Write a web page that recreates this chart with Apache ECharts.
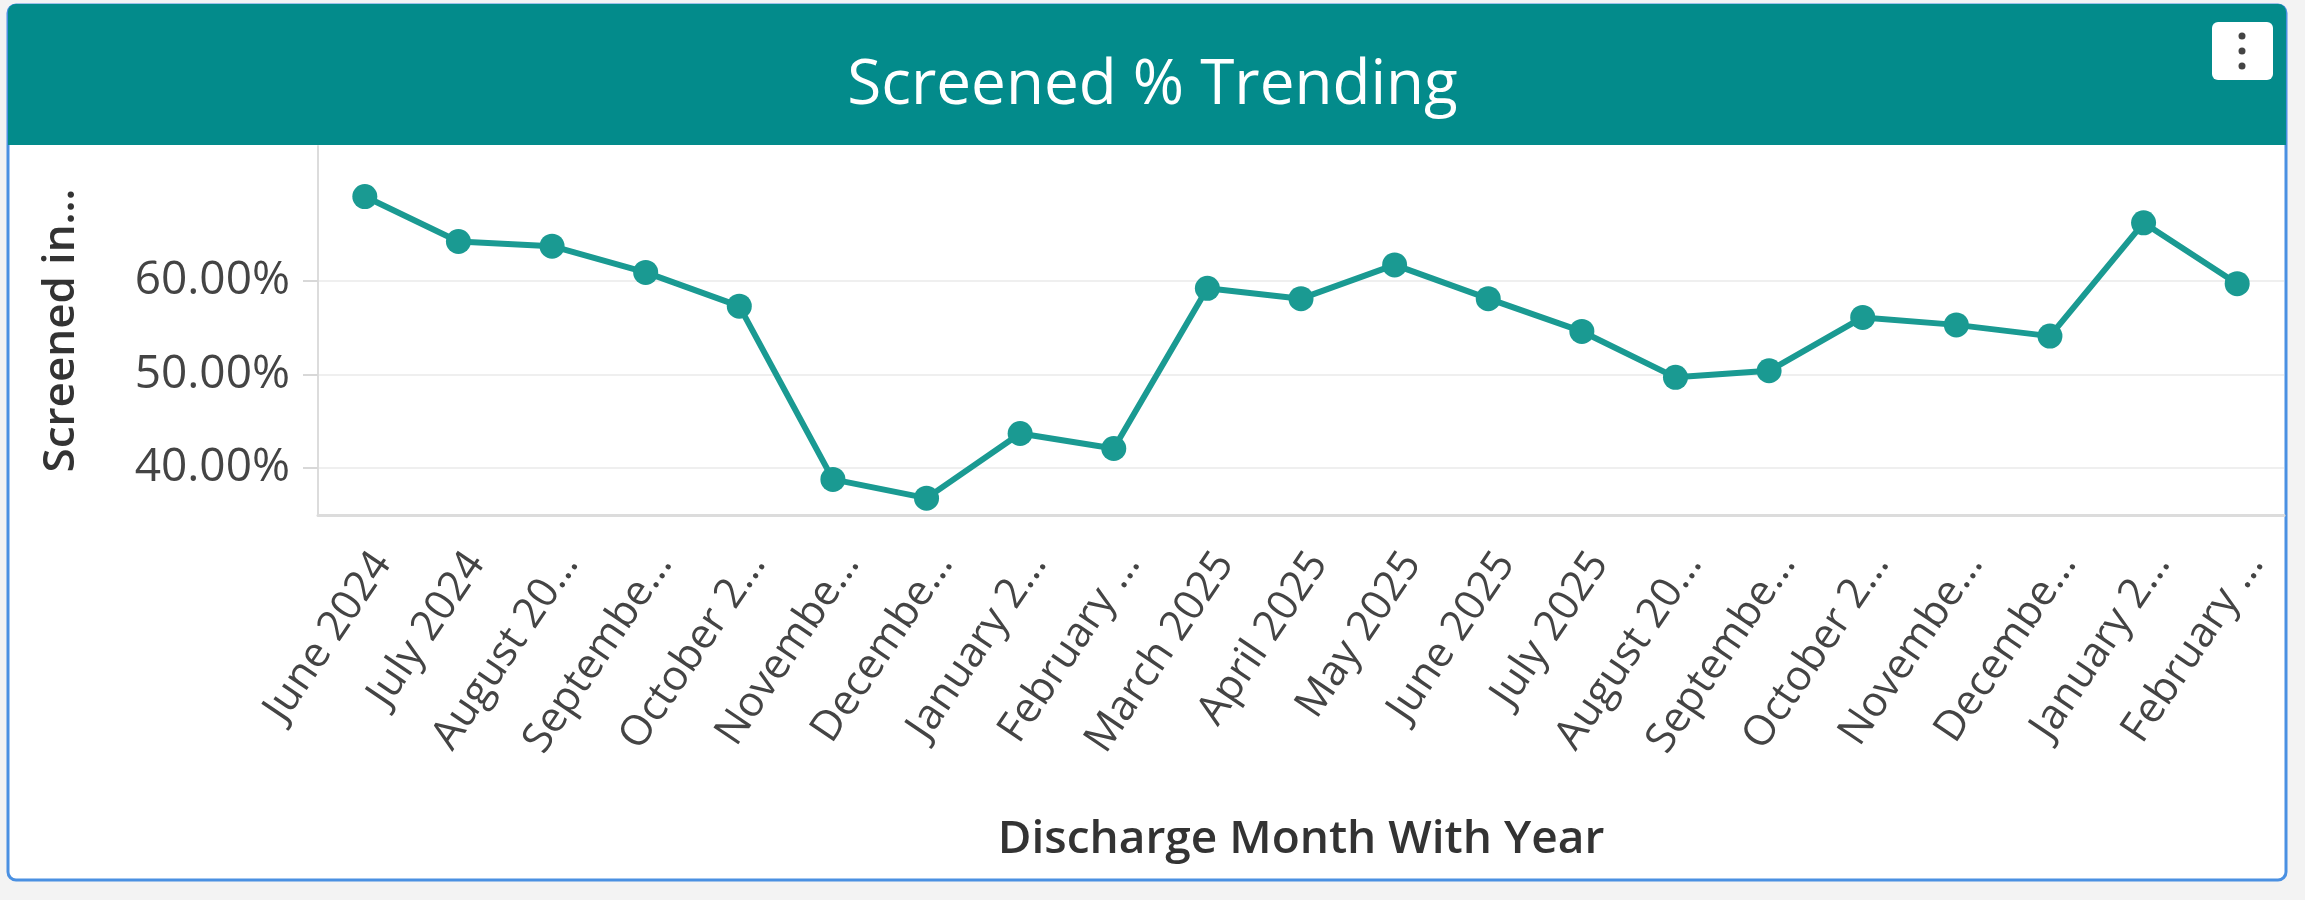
<!DOCTYPE html>
<html><head><meta charset="utf-8">
<script src="https://cdn.jsdelivr.net/npm/echarts@6/dist/echarts.min.js"></script>
<style>html,body{margin:0;padding:0;background:#f3f3f3;overflow:hidden}#chart{width:2305px;height:900px;}</style>
</head><body><div id="chart"></div>
<script>
const categories = ['June 2024','July 2024','August 2024','September 2024','October 2024','November 2024','December 2024','January 2025','February 2025','March 2025','April 2025','May 2025','June 2025','July 2025','August 2025','September 2025','October 2025','November 2025','December 2025','January 2026','February 2026'];
const tickLabels = ['June 2024','July 2024','August 20…','Septembe…','October 2…','Novembe…','Decembe…','January 2…','February …','March 2025','April 2025','May 2025','June 2025','July 2025','August 20…','Septembe…','October 2…','Novembe…','Decembe…','January 2…','February …'];
const screenedPct = [69.0,64.2,63.7,60.9,57.3,38.8,36.8,43.7,42.1,59.2,58.1,61.7,58.1,54.6,49.7,50.4,56.1,55.3,54.1,66.2,59.7];
const yTickValues = [40,50,60];

const chart = echarts.init(document.getElementById('chart'), null, {renderer:'canvas'});
const FONT = '"Open Sans", "Noto Sans", sans-serif';
const TEAL = '#038b8b';
const LINE = '#1a9a92';

chart.setOption({
  backgroundColor: '#f3f3f3',
  textStyle: {fontFamily: FONT},
  graphic: [
    {type:'rect', z:-10, shape:{x:8, y:5, width:2278, height:875, r:8}, style:{fill:'#ffffff', stroke:'#4a90e2', lineWidth:3}},
    {type:'rect', z:-9, shape:{x:8, y:4, width:2278, height:141, r:[8,8,0,0]}, style:{fill:TEAL}},
    {type:'rect', z:-8, shape:{x:2212, y:22, width:61, height:58, r:6}, style:{fill:'#ffffff'}},
    {type:'circle', z:-7, shape:{cx:2242, cy:36, r:3.5}, style:{fill:'#444'}},
    {type:'circle', z:-7, shape:{cx:2242, cy:51, r:3.5}, style:{fill:'#444'}},
    {type:'circle', z:-7, shape:{cx:2242, cy:66, r:3.5}, style:{fill:'#444'}}
  ],
  title: {
    text: 'Screened % Trending',
    left: 'center',
    top: 50,
    textStyle: {color:'#ffffff', fontSize:62, fontWeight:'normal', fontFamily: FONT}
  },
  grid: {left:318, right:21, top:146, bottom:385, containLabel:false},
  xAxis: {
    type:'category',
    data: categories,
    boundaryGap: true,
    name: 'Discharge Month With Year',
    nameLocation: 'middle',
    nameGap: 302,
    nameTextStyle: {color:'#333', fontSize:46, fontWeight:600, fontFamily: FONT},
    axisLine: {show:true, lineStyle:{color:'#dcdcdc', width:3}},
    axisTick: {show:false},
    axisLabel: {
      rotate: 56, margin: 30, color:'#444', fontSize:42, fontFamily: FONT,
      verticalAlign: 'top',
      interval: 0,
      formatter: (v, i) => tickLabels[i]
    }
  },
  yAxis: {
    type:'value',
    min: 35, max: 74.4,
    name: 'Screened in…',
    nameLocation: 'middle',
    nameGap: 235,
    nameRotate: 90,
    nameTextStyle: {color:'#333', fontSize:44, fontWeight:600, fontFamily: FONT},
    axisLine: {show:true, lineStyle:{color:'#dcdcdc', width:2}},
    axisTick: {show:true, length:15, customValues: yTickValues, lineStyle:{color:'#d8d8d8', width:2}},
    axisLabel: {show:true, margin:28, color:'#444', fontSize:46, fontFamily: FONT, customValues: yTickValues,
      formatter: v => v.toFixed(2) + '%'},
    splitLine: {show:true, lineStyle:{color:'#efefef', width:2}}
  },
  series: [{
    type:'line',
    data: screenedPct,
    symbol:'circle',
    symbolSize: 25,
    lineStyle: {color:LINE, width:6},
    itemStyle: {color:LINE},
    animation:false
  }],
  animation:false
});
</script></body></html>
